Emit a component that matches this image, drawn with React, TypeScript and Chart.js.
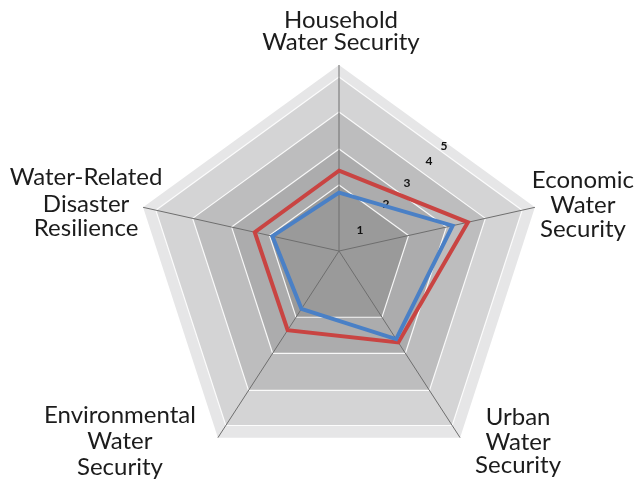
import React, { useEffect, useRef } from 'react';
import { Chart, registerables, RadialLinearScale } from 'chart.js';

// ---- data ----
const CATEGORIES: string[][] = [
  ['Household', 'Water Security'],
  ['Economic', 'Water', 'Security'],
  ['Urban', 'Water', 'Security'],
  ['Environmental', 'Water', 'Security'],
  ['Water-Related', 'Disaster', 'Resilience'],
];
const SERIES_RED = [2.16, 3.29, 2.45, 2.12, 2.15];
const SERIES_BLUE = [1.57, 2.9, 2.36, 1.55, 1.7];
const BAND_EDGES = [5, 4.675, 3.735, 2.74, 1.775];
const BAND_COLORS = ['#e6e6e7', '#d4d4d5', '#bdbdbe', '#acacad', '#9a9a9a'];
const TICK_LABELS = ['1', '2', '3', '4', '5'];
const SCALE_MAX = 5;

// ---- style constants ----
const LIFT_RATIO = 20 / 206; // perspective lift of the centre
const TICK_ANGLE = (41 * Math.PI) / 180;
const TICK_FRACTIONS = [0.155, 0.348, 0.503, 0.666, 0.777];
// label anchors relative to outer vertex: [dx, baseline dy per line]
const LABEL_OFFSETS: [number, number[]][] = [
  [2, [-37, -15]],
  [48, [-19, 6, 30]],
  [58, [-13, 12, 35]],
  [-98, [-15, 11, 37]],
  [-57, [-22, 5, 29]],
];

class PerspectiveRadialScale extends RadialLinearScale {
  static id = 'perspectiveRadial';
  getPointPosition(index: number, distance: number, additionalAngle = 0) {
    const p: any = super.getPointPosition(index, distance, additionalAngle);
    const R = (this as any).drawingArea || 1;
    const lift = R * LIFT_RATIO * (1 - distance / R);
    return { x: p.x, y: p.y - lift, angle: p.angle };
  }
}

Chart.register(...registerables, PerspectiveRadialScale as any);

const pyramidPlugin = {
  id: 'pyramidBg',
  beforeDatasetsDraw(chart: any) {
    const s = chart.scales.r;
    const ctx = chart.ctx as CanvasRenderingContext2D;
    const n = CATEGORIES.length;
    const poly = (v: number) => {
      const d = s.getDistanceFromCenterForValue(v);
      ctx.beginPath();
      for (let i = 0; i < n; i++) {
        const p = s.getPointPosition(i, d);
        if (i === 0) ctx.moveTo(p.x, p.y);
        else ctx.lineTo(p.x, p.y);
      }
      ctx.closePath();
    };
    ctx.save();
    BAND_EDGES.forEach((v, k) => {
      poly(v);
      ctx.fillStyle = BAND_COLORS[k];
      ctx.fill();
    });
    ctx.strokeStyle = 'rgba(255,255,255,0.9)';
    ctx.lineWidth = 1.2;
    ctx.lineJoin = 'miter';
    BAND_EDGES.slice(1).forEach((v) => {
      poly(v);
      ctx.stroke();
    });
    const c = s.getPointPosition(0, 0);
    ctx.strokeStyle = '#6e6e6e';
    ctx.lineWidth = 1;
    for (let i = 0; i < n; i++) {
      const p = s.getPointPosition(i, s.drawingArea);
      ctx.beginPath();
      ctx.moveTo(c.x, c.y);
      ctx.lineTo(p.x, p.y);
      ctx.stroke();
    }
    // tick labels
    const R = s.drawingArea;
    ctx.fillStyle = '#111';
    ctx.font = 'bold 12px Lato, "DejaVu Sans", sans-serif';
    ctx.textAlign = 'center';
    ctx.textBaseline = 'middle';
    TICK_LABELS.forEach((t, k) => {
      const d = TICK_FRACTIONS[k] * R;
      const x = s.xCenter + d * Math.sin(TICK_ANGLE);
      const y = s.yCenter - d * Math.cos(TICK_ANGLE) - R * LIFT_RATIO * (1 - d / R);
      ctx.fillText(t, x, y);
    });
    ctx.restore();
  },
  afterDraw(chart: any) {
    const s = chart.scales.r;
    const ctx = chart.ctx as CanvasRenderingContext2D;
    ctx.save();
    ctx.fillStyle = '#1c1c1c';
    ctx.font = '400 24px Lato, "Open Sans", sans-serif';
    ctx.textAlign = 'center';
    ctx.textBaseline = 'alphabetic';
    CATEGORIES.forEach((lines, i) => {
      const v = s.getPointPosition(i, s.drawingArea);
      const [dx, dys] = LABEL_OFFSETS[i];
      lines.forEach((ln, j) => ctx.fillText(ln, v.x + dx, v.y + dys[j]));
    });
    ctx.restore();
  },
};

export default function App() {
  const ref = useRef<HTMLCanvasElement | null>(null);
  useEffect(() => {
    if (!ref.current) return;
    const chart = new Chart(ref.current, {
      type: 'radar',
      data: {
        labels: CATEGORIES.map((l) => l.join(' ')),
        datasets: [
          {
            label: 'Series 1',
            data: SERIES_BLUE,
            borderColor: '#4a80c6',
            borderWidth: 4,
            pointRadius: 0,
            fill: false,
            tension: 0,
            borderJoinStyle: 'miter',
          },
          {
            label: 'Series 2',
            data: SERIES_RED,
            borderColor: '#c94442',
            borderWidth: 4,
            pointRadius: 0,
            fill: false,
            tension: 0,
            borderJoinStyle: 'miter',
          },
        ],
      },
      options: {
        animation: false,
        responsive: false,
        layout: { padding: { top: 65, bottom: 3, left: 133, right: 92 } },
        plugins: { legend: { display: false }, tooltip: { enabled: false } },
        scales: {
          r: {
            type: 'perspectiveRadial',
            min: 0,
            max: SCALE_MAX,
            ticks: { display: false, stepSize: 1 },
            grid: { display: false },
            angleLines: { display: false },
            pointLabels: { display: false },
          } as any,
        },
      },
      plugins: [pyramidPlugin],
    } as any);
    return () => chart.destroy();
  }, []);
  return (
    <div style={{ position: 'fixed', left: 0, top: 0, width: 637, height: 480, background: '#fff' }}>
      <canvas ref={ref} width={637} height={480} />
    </div>
  );
}
